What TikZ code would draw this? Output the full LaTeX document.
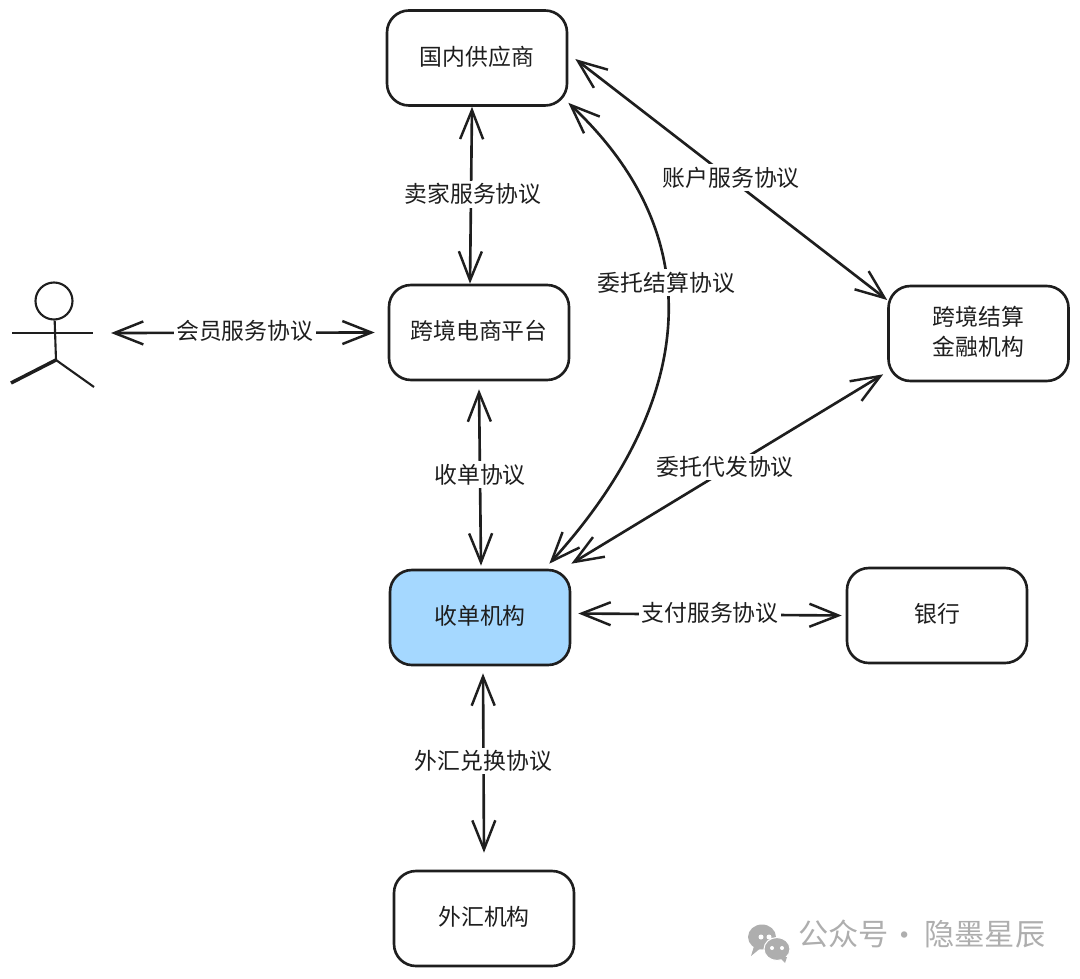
\documentclass[tikz,border=0pt]{standalone}
\usepackage{fontspec}
\usepackage{xcolor}
\setmainfont{Noto Sans CJK SC}
\usetikzlibrary{arrows.meta}
\definecolor{inkcolor}{HTML}{1E1E1E}
\definecolor{acqblue}{HTML}{A5D8FF}
\definecolor{markgray}{HTML}{AEAEAE}
\tikzset{
    party/.style={draw=inkcolor, line width=1.5pt, rounded corners=0.44cm, minimum width=3.6cm, minimum height=1.9cm, align=center, text=inkcolor, text depth=0.29em, font=\fontsize{13}{17}\selectfont},
    deal/.style={fill=white, text=inkcolor, inner sep=1.5pt, font=\fontsize{13}{17}\selectfont},
    link/.style={draw=inkcolor, line width=1.5pt, {Straight Barb[length=0.58cm,width=0.46cm,line width=1.4pt]}-{Straight Barb[length=0.58cm,width=0.46cm,line width=1.4pt]}}
}
\begin{document}
\begin{tikzpicture}
    \useasboundingbox (0,0) rectangle (21.6,19.56);

    \node[party] (supplier) at (9.54,18.40) {国内供应商};
    \node[party] (platform) at (9.58,12.91) {跨境电商平台};
    \node[party, fill=acqblue] (acquirer) at (9.60,7.21) {收单机构};
    \node[party] (forex) at (9.68,1.19) {外汇机构};
    \node[party] (finance) at (19.57,12.89) {跨境结算\\金融机构};
    \node[party] (bank) at (18.74,7.25) {银行};

    % person
    \node[circle, draw=inkcolor, line width=1.2pt, minimum size=0.74cm, inner sep=0pt] (head) at (1.08,13.54) {};
    \coordinate (handL) at (0.24,12.90);
    \coordinate (handR) at (1.86,12.90);
    \coordinate (hip) at (1.12,12.36);
    \coordinate (footL) at (0.22,11.90);
    \coordinate (footR) at (1.88,11.82);
    \draw[draw=inkcolor, line width=1.4pt] (handL) -- (handR);
    \draw[draw=inkcolor, line width=1.2pt] (head) -- (hip);
    \draw[draw=inkcolor, line width=2pt] (hip) -- (footL);
    \draw[draw=inkcolor, line width=1.2pt] (hip) -- (footR);

    % person <-> platform
    \draw[link] ([xshift=0.36cm]handR) -- node[deal, xshift=0.04cm, yshift=0.04cm] (memberdeal) {会员服务协议} ([xshift=-0.26cm]platform.west);

    % supplier <-> platform
    \draw[link] ([xshift=-0.1cm]supplier.south) -- node[deal, xshift=0.04cm, yshift=0.02cm] (sellerdeal) {卖家服务协议} ([xshift=-0.18cm]platform.north);

    % platform <-> acquirer
    \draw[link] ([yshift=-0.16cm]platform.south) -- node[deal, yshift=0.06cm] (acqdeal) {收单协议} ([xshift=0.02cm,yshift=0.06cm]acquirer.north);

    % acquirer <-> forex
    \draw[link] ([xshift=0.06cm,yshift=-0.14cm]acquirer.south) -- node[deal, yshift=0.04cm] (fxdeal) {外汇兑换协议} ([yshift=0.34cm]forex.north);

    % acquirer <-> bank
    \draw[link] ([xshift=0.14cm,yshift=0.08cm]acquirer.east) -- node[deal, yshift=0.04cm] (paydeal) {支付服务协议} ([xshift=-0.08cm]bank.west);

    % supplier <-> finance
    \draw[link] ([xshift=0.14cm,yshift=-0.02cm]supplier.east) -- node[deal, yshift=0.04cm] (acctdeal) {账户服务协议} ([yshift=0.67cm]finance.west);

    % acquirer <-> finance
    \draw[link] ([yshift=0.1cm]acquirer.north east) -- node[deal, xshift=-0.04cm, yshift=0.04cm] (agentdeal) {委托代发协议} ([xshift=-0.08cm,yshift=0.16cm]finance.south west);

    % acquirer <-> supplier
    \draw[link] ([xshift=-0.44cm,yshift=0.1cm]acquirer.north east) .. controls (13.6,11.16) and (14.5,14.56) .. ([yshift=0.08cm]supplier.south east) node[deal, pos=0.61] (settledeal) {委托结算协议};

    % watermark
    \fill[markgray] (15.24,0.82) ellipse (0.28cm and 0.25cm);
    \fill[markgray] (15.02,0.44) -- (15.10,0.70) -- (15.24,0.62) -- cycle;
    \fill[white] (15.22,0.82) circle (0.05cm);
    \fill[white] (15.38,0.82) circle (0.05cm);
    \fill[markgray, draw=white, line width=0.6pt] (15.54,0.58) ellipse (0.26cm and 0.23cm);
    \fill[markgray] (15.70,0.30) -- (15.58,0.42) -- (15.74,0.42) -- cycle;
    \fill[white] (15.44,0.60) circle (0.04cm);
    \fill[white] (15.64,0.60) circle (0.04cm);
    \node[text=markgray, inner sep=0pt, anchor=west, font=\fontsize{17.2}{20}\selectfont] (wechatmark) at (15.96,0.88) {公众号};
    \node[text=markgray, inner sep=0pt, font=\fontsize{17.2}{20}\selectfont] (markdot) at (18.1,0.78) {·};
    \node[text=markgray, inner sep=0pt, anchor=west, font=\fontsize{17.2}{20}\selectfont] (authormark) at (18.48,0.88) {隐墨星辰};
\end{tikzpicture}
\end{document}
